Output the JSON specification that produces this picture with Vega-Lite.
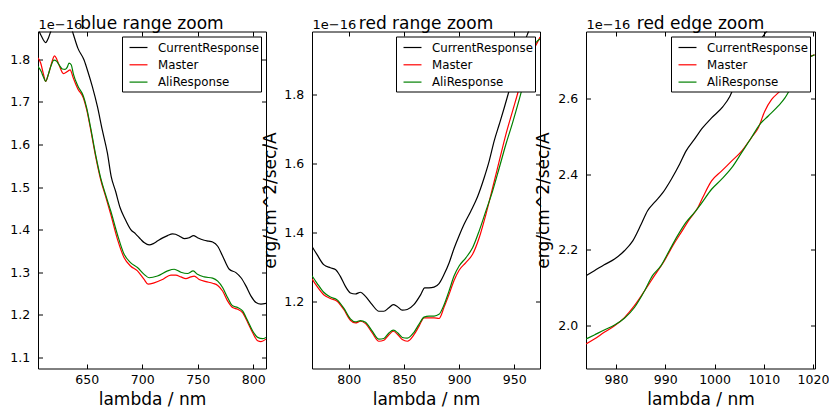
{
  "$schema": "https://vega.github.io/schema/vega-lite/v6.json",
  "autosize": {"type": "pad"},
  "padding": {"left": 9, "top": 14.5, "right": 5, "bottom": 0},
  "bounds": "flush",
  "spacing": 46,
  "config": {
    "font": "DejaVu Sans",
    "view": {"stroke": "black", "strokeWidth": 1},
    "axis": {"domain": false, "grid": false, "tickColor": "black", "tickSize": -4.5, "tickWidth": 1, "labelFont": "DejaVu Sans", "labelFontSize": 12.5, "labelColor": "black", "titleFont": "DejaVu Sans", "titleFontSize": 17, "titleFontWeight": "normal", "titleColor": "black", "labelOverlap": false, "labelFlush": false},
    "title": {"font": "DejaVu Sans", "fontSize": 17, "fontWeight": "normal", "color": "black", "anchor": "middle", "baseline": "alphabetic", "offset": -15},
    "legend": {"orient": "top-right", "offset": 5, "strokeColor": "black", "fillColor": "white", "padding": 2, "symbolType": "M-1.07,0H1.07", "symbolSize": 282, "symbolOffset": 5.5, "symbolStrokeWidth": 1.2, "labelFont": "DejaVu Sans", "labelFontSize": 11.8, "labelColor": "black", "labelOffset": 10.5, "rowPadding": 1.3, "cornerRadius": 0},
    "line": {"strokeWidth": 1.2, "interpolate": "monotone"}
  },
  "datasets": {
    "blue": [
      {"nm": 606, "v": 1.872, "s": "CurrentResponse"}, {"nm": 609, "v": 1.855, "s": "CurrentResponse"}, {"nm": 613, "v": 1.839, "s": "CurrentResponse"}, {"nm": 615.5, "v": 1.85, "s": "CurrentResponse"}, {"nm": 618, "v": 1.868, "s": "CurrentResponse"}, {"nm": 622, "v": 1.89, "s": "CurrentResponse"}, {"nm": 627, "v": 1.905, "s": "CurrentResponse"}, {"nm": 632, "v": 1.9, "s": "CurrentResponse"}, {"nm": 636, "v": 1.875, "s": "CurrentResponse"}, {"nm": 638, "v": 1.858, "s": "CurrentResponse"}, {"nm": 642, "v": 1.826, "s": "CurrentResponse"}, {"nm": 647.6, "v": 1.798, "s": "CurrentResponse"}, {"nm": 651, "v": 1.771, "s": "CurrentResponse"}, {"nm": 655, "v": 1.736, "s": "CurrentResponse"}, {"nm": 659.6, "v": 1.689, "s": "CurrentResponse"}, {"nm": 664, "v": 1.634, "s": "CurrentResponse"}, {"nm": 668.6, "v": 1.58, "s": "CurrentResponse"}, {"nm": 672, "v": 1.525, "s": "CurrentResponse"}, {"nm": 676, "v": 1.49, "s": "CurrentResponse"}, {"nm": 680, "v": 1.452, "s": "CurrentResponse"}, {"nm": 684, "v": 1.428, "s": "CurrentResponse"}, {"nm": 689.7, "v": 1.4, "s": "CurrentResponse"}, {"nm": 694, "v": 1.39, "s": "CurrentResponse"}, {"nm": 698.7, "v": 1.377, "s": "CurrentResponse"}, {"nm": 702, "v": 1.369, "s": "CurrentResponse"}, {"nm": 706.2, "v": 1.364, "s": "CurrentResponse"}, {"nm": 710, "v": 1.367, "s": "CurrentResponse"}, {"nm": 713.7, "v": 1.373, "s": "CurrentResponse"}, {"nm": 718, "v": 1.38, "s": "CurrentResponse"}, {"nm": 722.8, "v": 1.386, "s": "CurrentResponse"}, {"nm": 727.3, "v": 1.39, "s": "CurrentResponse"}, {"nm": 730, "v": 1.389, "s": "CurrentResponse"}, {"nm": 733.3, "v": 1.385, "s": "CurrentResponse"}, {"nm": 737.8, "v": 1.379, "s": "CurrentResponse"}, {"nm": 742.3, "v": 1.381, "s": "CurrentResponse"}, {"nm": 746.2, "v": 1.386, "s": "CurrentResponse"}, {"nm": 749.8, "v": 1.381, "s": "CurrentResponse"}, {"nm": 755.8, "v": 1.375, "s": "CurrentResponse"}, {"nm": 760, "v": 1.373, "s": "CurrentResponse"}, {"nm": 763.4, "v": 1.371, "s": "CurrentResponse"}, {"nm": 768, "v": 1.361, "s": "CurrentResponse"}, {"nm": 772.4, "v": 1.338, "s": "CurrentResponse"}, {"nm": 778.4, "v": 1.307, "s": "CurrentResponse"}, {"nm": 784.4, "v": 1.299, "s": "CurrentResponse"}, {"nm": 789, "v": 1.287, "s": "CurrentResponse"}, {"nm": 793.4, "v": 1.268, "s": "CurrentResponse"}, {"nm": 798, "v": 1.244, "s": "CurrentResponse"}, {"nm": 802.5, "v": 1.229, "s": "CurrentResponse"}, {"nm": 807, "v": 1.225, "s": "CurrentResponse"}, {"nm": 811.5, "v": 1.227, "s": "CurrentResponse"},
      {"nm": 606, "v": 1.803, "s": "Master"}, {"nm": 608.5, "v": 1.791, "s": "Master"}, {"nm": 611, "v": 1.765, "s": "Master"}, {"nm": 613, "v": 1.748, "s": "Master"}, {"nm": 615.5, "v": 1.765, "s": "Master"}, {"nm": 617.5, "v": 1.783, "s": "Master"}, {"nm": 621, "v": 1.808, "s": "Master"}, {"nm": 623, "v": 1.8, "s": "Master"}, {"nm": 625, "v": 1.787, "s": "Master"}, {"nm": 629, "v": 1.766, "s": "Master"}, {"nm": 632.6, "v": 1.771, "s": "Master"}, {"nm": 635, "v": 1.775, "s": "Master"}, {"nm": 638, "v": 1.755, "s": "Master"}, {"nm": 642, "v": 1.73, "s": "Master"}, {"nm": 647, "v": 1.709, "s": "Master"}, {"nm": 650, "v": 1.681, "s": "Master"}, {"nm": 653.6, "v": 1.634, "s": "Master"}, {"nm": 658, "v": 1.572, "s": "Master"}, {"nm": 662.6, "v": 1.517, "s": "Master"}, {"nm": 667, "v": 1.478, "s": "Master"}, {"nm": 671.7, "v": 1.435, "s": "Master"}, {"nm": 677.7, "v": 1.377, "s": "Master"}, {"nm": 683.7, "v": 1.334, "s": "Master"}, {"nm": 689.7, "v": 1.314, "s": "Master"}, {"nm": 695.7, "v": 1.303, "s": "Master"}, {"nm": 701.7, "v": 1.283, "s": "Master"}, {"nm": 705.3, "v": 1.272, "s": "Master"}, {"nm": 710.7, "v": 1.275, "s": "Master"}, {"nm": 718.3, "v": 1.283, "s": "Master"}, {"nm": 725.8, "v": 1.293, "s": "Master"}, {"nm": 730.3, "v": 1.293, "s": "Master"}, {"nm": 734.8, "v": 1.289, "s": "Master"}, {"nm": 739.3, "v": 1.285, "s": "Master"}, {"nm": 743.8, "v": 1.289, "s": "Master"}, {"nm": 746.8, "v": 1.291, "s": "Master"}, {"nm": 751.3, "v": 1.283, "s": "Master"}, {"nm": 757.3, "v": 1.278, "s": "Master"}, {"nm": 763.4, "v": 1.274, "s": "Master"}, {"nm": 768, "v": 1.269, "s": "Master"}, {"nm": 772.4, "v": 1.256, "s": "Master"}, {"nm": 777, "v": 1.232, "s": "Master"}, {"nm": 781.4, "v": 1.217, "s": "Master"}, {"nm": 786, "v": 1.213, "s": "Master"}, {"nm": 790.4, "v": 1.205, "s": "Master"}, {"nm": 795, "v": 1.182, "s": "Master"}, {"nm": 799.5, "v": 1.158, "s": "Master"}, {"nm": 804, "v": 1.139, "s": "Master"}, {"nm": 807, "v": 1.137, "s": "Master"}, {"nm": 811.5, "v": 1.143, "s": "Master"},
      {"nm": 606, "v": 1.783, "s": "AliResponse"}, {"nm": 609, "v": 1.771, "s": "AliResponse"}, {"nm": 611, "v": 1.758, "s": "AliResponse"}, {"nm": 613, "v": 1.748, "s": "AliResponse"}, {"nm": 615.5, "v": 1.765, "s": "AliResponse"}, {"nm": 617.5, "v": 1.782, "s": "AliResponse"}, {"nm": 620.5, "v": 1.798, "s": "AliResponse"}, {"nm": 623, "v": 1.795, "s": "AliResponse"}, {"nm": 625, "v": 1.787, "s": "AliResponse"}, {"nm": 628, "v": 1.777, "s": "AliResponse"}, {"nm": 630.5, "v": 1.776, "s": "AliResponse"}, {"nm": 632.6, "v": 1.782, "s": "AliResponse"}, {"nm": 634, "v": 1.791, "s": "AliResponse"}, {"nm": 636, "v": 1.787, "s": "AliResponse"}, {"nm": 638, "v": 1.765, "s": "AliResponse"}, {"nm": 642, "v": 1.737, "s": "AliResponse"}, {"nm": 647, "v": 1.713, "s": "AliResponse"}, {"nm": 650, "v": 1.685, "s": "AliResponse"}, {"nm": 653.6, "v": 1.638, "s": "AliResponse"}, {"nm": 658, "v": 1.576, "s": "AliResponse"}, {"nm": 662.6, "v": 1.521, "s": "AliResponse"}, {"nm": 667, "v": 1.482, "s": "AliResponse"}, {"nm": 671.7, "v": 1.443, "s": "AliResponse"}, {"nm": 677.7, "v": 1.388, "s": "AliResponse"}, {"nm": 683.7, "v": 1.342, "s": "AliResponse"}, {"nm": 689.7, "v": 1.322, "s": "AliResponse"}, {"nm": 695.7, "v": 1.311, "s": "AliResponse"}, {"nm": 701.7, "v": 1.295, "s": "AliResponse"}, {"nm": 706.2, "v": 1.287, "s": "AliResponse"}, {"nm": 713.7, "v": 1.291, "s": "AliResponse"}, {"nm": 722.8, "v": 1.303, "s": "AliResponse"}, {"nm": 728.8, "v": 1.307, "s": "AliResponse"}, {"nm": 734.8, "v": 1.3, "s": "AliResponse"}, {"nm": 740.8, "v": 1.297, "s": "AliResponse"}, {"nm": 745.9, "v": 1.303, "s": "AliResponse"}, {"nm": 749.8, "v": 1.295, "s": "AliResponse"}, {"nm": 755.8, "v": 1.289, "s": "AliResponse"}, {"nm": 763.4, "v": 1.286, "s": "AliResponse"}, {"nm": 768, "v": 1.279, "s": "AliResponse"}, {"nm": 772.4, "v": 1.264, "s": "AliResponse"}, {"nm": 777, "v": 1.24, "s": "AliResponse"}, {"nm": 781.4, "v": 1.221, "s": "AliResponse"}, {"nm": 786, "v": 1.217, "s": "AliResponse"}, {"nm": 790.4, "v": 1.209, "s": "AliResponse"}, {"nm": 795, "v": 1.186, "s": "AliResponse"}, {"nm": 799.5, "v": 1.162, "s": "AliResponse"}, {"nm": 804, "v": 1.147, "s": "AliResponse"}, {"nm": 808.5, "v": 1.144, "s": "AliResponse"}, {"nm": 811.5, "v": 1.147, "s": "AliResponse"}
    ],
    "red": [
      {"nm": 766.7, "v": 1.361, "s": "CurrentResponse"}, {"nm": 771.3, "v": 1.337, "s": "CurrentResponse"}, {"nm": 777.3, "v": 1.308, "s": "CurrentResponse"}, {"nm": 783.3, "v": 1.299, "s": "CurrentResponse"}, {"nm": 787.9, "v": 1.294, "s": "CurrentResponse"}, {"nm": 792.4, "v": 1.274, "s": "CurrentResponse"}, {"nm": 797, "v": 1.245, "s": "CurrentResponse"}, {"nm": 801.5, "v": 1.226, "s": "CurrentResponse"}, {"nm": 806, "v": 1.223, "s": "CurrentResponse"}, {"nm": 810.6, "v": 1.228, "s": "CurrentResponse"}, {"nm": 815.2, "v": 1.216, "s": "CurrentResponse"}, {"nm": 821.2, "v": 1.192, "s": "CurrentResponse"}, {"nm": 827.3, "v": 1.173, "s": "CurrentResponse"}, {"nm": 831.8, "v": 1.173, "s": "CurrentResponse"}, {"nm": 836.4, "v": 1.183, "s": "CurrentResponse"}, {"nm": 840.3, "v": 1.192, "s": "CurrentResponse"}, {"nm": 843.9, "v": 1.187, "s": "CurrentResponse"}, {"nm": 848.5, "v": 1.176, "s": "CurrentResponse"}, {"nm": 853, "v": 1.178, "s": "CurrentResponse"}, {"nm": 859, "v": 1.192, "s": "CurrentResponse"}, {"nm": 865.2, "v": 1.221, "s": "CurrentResponse"}, {"nm": 868.8, "v": 1.241, "s": "CurrentResponse"}, {"nm": 872.7, "v": 1.241, "s": "CurrentResponse"}, {"nm": 877.3, "v": 1.243, "s": "CurrentResponse"}, {"nm": 881.8, "v": 1.253, "s": "CurrentResponse"}, {"nm": 886.4, "v": 1.28, "s": "CurrentResponse"}, {"nm": 890.9, "v": 1.313, "s": "CurrentResponse"}, {"nm": 895.4, "v": 1.355, "s": "CurrentResponse"}, {"nm": 900, "v": 1.392, "s": "CurrentResponse"}, {"nm": 904.5, "v": 1.425, "s": "CurrentResponse"}, {"nm": 910.6, "v": 1.463, "s": "CurrentResponse"}, {"nm": 916.7, "v": 1.505, "s": "CurrentResponse"}, {"nm": 922.7, "v": 1.56, "s": "CurrentResponse"}, {"nm": 927.3, "v": 1.609, "s": "CurrentResponse"}, {"nm": 931.8, "v": 1.667, "s": "CurrentResponse"}, {"nm": 936.4, "v": 1.715, "s": "CurrentResponse"}, {"nm": 940.9, "v": 1.763, "s": "CurrentResponse"}, {"nm": 946, "v": 1.82, "s": "CurrentResponse"}, {"nm": 951, "v": 1.875, "s": "CurrentResponse"}, {"nm": 956, "v": 1.925, "s": "CurrentResponse"}, {"nm": 960, "v": 1.96, "s": "CurrentResponse"}, {"nm": 963.6, "v": 1.99, "s": "CurrentResponse"}, {"nm": 968, "v": 2.03, "s": "CurrentResponse"}, {"nm": 973.3, "v": 2.07, "s": "CurrentResponse"},
      {"nm": 766.7, "v": 1.267, "s": "Master"}, {"nm": 771.3, "v": 1.245, "s": "Master"}, {"nm": 777.3, "v": 1.221, "s": "Master"}, {"nm": 783.4, "v": 1.21, "s": "Master"}, {"nm": 789.5, "v": 1.202, "s": "Master"}, {"nm": 795.5, "v": 1.178, "s": "Master"}, {"nm": 801.5, "v": 1.147, "s": "Master"}, {"nm": 806.1, "v": 1.139, "s": "Master"}, {"nm": 810.6, "v": 1.144, "s": "Master"}, {"nm": 815.2, "v": 1.137, "s": "Master"}, {"nm": 821.3, "v": 1.11, "s": "Master"}, {"nm": 827.3, "v": 1.086, "s": "Master"}, {"nm": 831.8, "v": 1.089, "s": "Master"}, {"nm": 836.4, "v": 1.105, "s": "Master"}, {"nm": 840.4, "v": 1.115, "s": "Master"}, {"nm": 844.5, "v": 1.105, "s": "Master"}, {"nm": 848.5, "v": 1.091, "s": "Master"}, {"nm": 853.1, "v": 1.086, "s": "Master"}, {"nm": 859.1, "v": 1.105, "s": "Master"}, {"nm": 863.6, "v": 1.129, "s": "Master"}, {"nm": 868.2, "v": 1.154, "s": "Master"}, {"nm": 872.7, "v": 1.154, "s": "Master"}, {"nm": 877.3, "v": 1.154, "s": "Master"}, {"nm": 881.8, "v": 1.152, "s": "Master"}, {"nm": 886.4, "v": 1.185, "s": "Master"}, {"nm": 890.9, "v": 1.222, "s": "Master"}, {"nm": 895.4, "v": 1.262, "s": "Master"}, {"nm": 900, "v": 1.292, "s": "Master"}, {"nm": 906.1, "v": 1.314, "s": "Master"}, {"nm": 912.2, "v": 1.338, "s": "Master"}, {"nm": 918.2, "v": 1.386, "s": "Master"}, {"nm": 924.3, "v": 1.454, "s": "Master"}, {"nm": 930.4, "v": 1.531, "s": "Master"}, {"nm": 936.4, "v": 1.609, "s": "Master"}, {"nm": 942.4, "v": 1.686, "s": "Master"}, {"nm": 948.5, "v": 1.754, "s": "Master"}, {"nm": 954.5, "v": 1.821, "s": "Master"}, {"nm": 960.6, "v": 1.899, "s": "Master"}, {"nm": 964.5, "v": 1.925, "s": "Master"}, {"nm": 968.2, "v": 1.937, "s": "Master"}, {"nm": 973.3, "v": 1.968, "s": "Master"},
      {"nm": 766.7, "v": 1.276, "s": "AliResponse"}, {"nm": 771.3, "v": 1.254, "s": "AliResponse"}, {"nm": 777.3, "v": 1.228, "s": "AliResponse"}, {"nm": 783.4, "v": 1.214, "s": "AliResponse"}, {"nm": 789.5, "v": 1.206, "s": "AliResponse"}, {"nm": 795.5, "v": 1.182, "s": "AliResponse"}, {"nm": 801.5, "v": 1.151, "s": "AliResponse"}, {"nm": 806.1, "v": 1.142, "s": "AliResponse"}, {"nm": 810.6, "v": 1.146, "s": "AliResponse"}, {"nm": 815.2, "v": 1.141, "s": "AliResponse"}, {"nm": 821.3, "v": 1.115, "s": "AliResponse"}, {"nm": 827.3, "v": 1.092, "s": "AliResponse"}, {"nm": 831.8, "v": 1.094, "s": "AliResponse"}, {"nm": 836.4, "v": 1.11, "s": "AliResponse"}, {"nm": 840.4, "v": 1.118, "s": "AliResponse"}, {"nm": 844.5, "v": 1.11, "s": "AliResponse"}, {"nm": 848.5, "v": 1.097, "s": "AliResponse"}, {"nm": 853.1, "v": 1.095, "s": "AliResponse"}, {"nm": 859.1, "v": 1.112, "s": "AliResponse"}, {"nm": 863.6, "v": 1.135, "s": "AliResponse"}, {"nm": 868.2, "v": 1.156, "s": "AliResponse"}, {"nm": 872.7, "v": 1.159, "s": "AliResponse"}, {"nm": 877.3, "v": 1.159, "s": "AliResponse"}, {"nm": 881.8, "v": 1.164, "s": "AliResponse"}, {"nm": 886.4, "v": 1.192, "s": "AliResponse"}, {"nm": 890.9, "v": 1.232, "s": "AliResponse"}, {"nm": 895.4, "v": 1.275, "s": "AliResponse"}, {"nm": 900, "v": 1.304, "s": "AliResponse"}, {"nm": 906.1, "v": 1.328, "s": "AliResponse"}, {"nm": 912.2, "v": 1.357, "s": "AliResponse"}, {"nm": 918.2, "v": 1.406, "s": "AliResponse"}, {"nm": 924.3, "v": 1.464, "s": "AliResponse"}, {"nm": 930.4, "v": 1.522, "s": "AliResponse"}, {"nm": 936.4, "v": 1.589, "s": "AliResponse"}, {"nm": 942.4, "v": 1.657, "s": "AliResponse"}, {"nm": 948.5, "v": 1.72, "s": "AliResponse"}, {"nm": 954.5, "v": 1.787, "s": "AliResponse"}, {"nm": 960.6, "v": 1.86, "s": "AliResponse"}, {"nm": 965.2, "v": 1.918, "s": "AliResponse"}, {"nm": 969.7, "v": 1.952, "s": "AliResponse"}, {"nm": 973.3, "v": 1.962, "s": "AliResponse"}
    ],
    "edge": [
      {"nm": 973.9, "v": 2.131, "s": "CurrentResponse"}, {"nm": 975.6, "v": 2.144, "s": "CurrentResponse"}, {"nm": 977.6, "v": 2.16, "s": "CurrentResponse"}, {"nm": 979.7, "v": 2.175, "s": "CurrentResponse"}, {"nm": 981.7, "v": 2.197, "s": "CurrentResponse"}, {"nm": 983.4, "v": 2.223, "s": "CurrentResponse"}, {"nm": 985.1, "v": 2.267, "s": "CurrentResponse"}, {"nm": 986.4, "v": 2.303, "s": "CurrentResponse"}, {"nm": 987.8, "v": 2.325, "s": "CurrentResponse"}, {"nm": 989.5, "v": 2.351, "s": "CurrentResponse"}, {"nm": 991.2, "v": 2.386, "s": "CurrentResponse"}, {"nm": 992.9, "v": 2.426, "s": "CurrentResponse"}, {"nm": 994.2, "v": 2.461, "s": "CurrentResponse"}, {"nm": 995.9, "v": 2.492, "s": "CurrentResponse"}, {"nm": 997.6, "v": 2.523, "s": "CurrentResponse"}, {"nm": 999.4, "v": 2.549, "s": "CurrentResponse"}, {"nm": 1001.7, "v": 2.579, "s": "CurrentResponse"}, {"nm": 1003.1, "v": 2.606, "s": "CurrentResponse"}, {"nm": 1004.1, "v": 2.635, "s": "CurrentResponse"}, {"nm": 1006, "v": 2.68, "s": "CurrentResponse"}, {"nm": 1008, "v": 2.725, "s": "CurrentResponse"}, {"nm": 1010.2, "v": 2.772, "s": "CurrentResponse"}, {"nm": 1012, "v": 2.8, "s": "CurrentResponse"}, {"nm": 1016, "v": 2.87, "s": "CurrentResponse"}, {"nm": 1020.3, "v": 2.94, "s": "CurrentResponse"},
      {"nm": 973.9, "v": 1.95, "s": "Master"}, {"nm": 975.6, "v": 1.963, "s": "Master"}, {"nm": 977.6, "v": 1.981, "s": "Master"}, {"nm": 979.7, "v": 1.998, "s": "Master"}, {"nm": 981.7, "v": 2.02, "s": "Master"}, {"nm": 983.7, "v": 2.051, "s": "Master"}, {"nm": 985.8, "v": 2.091, "s": "Master"}, {"nm": 987.8, "v": 2.131, "s": "Master"}, {"nm": 989.8, "v": 2.17, "s": "Master"}, {"nm": 991.5, "v": 2.21, "s": "Master"}, {"nm": 993.2, "v": 2.245, "s": "Master"}, {"nm": 994.9, "v": 2.28, "s": "Master"}, {"nm": 996.6, "v": 2.311, "s": "Master"}, {"nm": 997.6, "v": 2.338, "s": "Master"}, {"nm": 999.4, "v": 2.382, "s": "Master"}, {"nm": 1001.4, "v": 2.408, "s": "Master"}, {"nm": 1003.5, "v": 2.435, "s": "Master"}, {"nm": 1005.5, "v": 2.461, "s": "Master"}, {"nm": 1007.5, "v": 2.497, "s": "Master"}, {"nm": 1008.9, "v": 2.523, "s": "Master"}, {"nm": 1010.2, "v": 2.567, "s": "Master"}, {"nm": 1011.6, "v": 2.598, "s": "Master"}, {"nm": 1013.3, "v": 2.62, "s": "Master"}, {"nm": 1015, "v": 2.645, "s": "Master"}, {"nm": 1017, "v": 2.68, "s": "Master"}, {"nm": 1018.5, "v": 2.705, "s": "Master"}, {"nm": 1020.3, "v": 2.716, "s": "Master"},
      {"nm": 973.9, "v": 1.963, "s": "AliResponse"}, {"nm": 975.6, "v": 1.974, "s": "AliResponse"}, {"nm": 977.6, "v": 1.987, "s": "AliResponse"}, {"nm": 979.7, "v": 2.0, "s": "AliResponse"}, {"nm": 981.7, "v": 2.018, "s": "AliResponse"}, {"nm": 983.7, "v": 2.046, "s": "AliResponse"}, {"nm": 985.8, "v": 2.091, "s": "AliResponse"}, {"nm": 987.4, "v": 2.131, "s": "AliResponse"}, {"nm": 989.1, "v": 2.157, "s": "AliResponse"}, {"nm": 990.8, "v": 2.197, "s": "AliResponse"}, {"nm": 992.5, "v": 2.237, "s": "AliResponse"}, {"nm": 994.2, "v": 2.272, "s": "AliResponse"}, {"nm": 995.9, "v": 2.298, "s": "AliResponse"}, {"nm": 997.3, "v": 2.322, "s": "AliResponse"}, {"nm": 999.4, "v": 2.36, "s": "AliResponse"}, {"nm": 1001.4, "v": 2.386, "s": "AliResponse"}, {"nm": 1003.5, "v": 2.417, "s": "AliResponse"}, {"nm": 1005.5, "v": 2.457, "s": "AliResponse"}, {"nm": 1007.5, "v": 2.497, "s": "AliResponse"}, {"nm": 1009.2, "v": 2.532, "s": "AliResponse"}, {"nm": 1010.9, "v": 2.554, "s": "AliResponse"}, {"nm": 1012.9, "v": 2.58, "s": "AliResponse"}, {"nm": 1014.3, "v": 2.602, "s": "AliResponse"}, {"nm": 1015.3, "v": 2.624, "s": "AliResponse"}, {"nm": 1017, "v": 2.66, "s": "AliResponse"}, {"nm": 1018.5, "v": 2.7, "s": "AliResponse"}, {"nm": 1020.3, "v": 2.716, "s": "AliResponse"}
    ]
  },
  "hconcat": [
    {
      "width": 228, "height": 337,
      "title": {"text": "blue range zoom"},
      "data": {"name": "blue"},
      "layer": [
        {
          "mark": {"type": "line", "clip": true},
          "encoding": {
            "x": {"field": "nm", "type": "quantitative", "scale": {"domain": [606.1, 811.5], "nice": false, "zero": false}, "axis": {"orient": "bottom", "values": [650, 700, 750, 800], "format": "d", "labelPadding": 9.5, "title": "lambda / nm", "titleY": 35.5, "titleBaseline": "alphabetic"}},
            "y": {"field": "v", "type": "quantitative", "scale": {"domain": [1.074, 1.865], "nice": false, "zero": false}, "axis": {"orient": "left", "values": [1.1, 1.2, 1.3, 1.4, 1.5, 1.6, 1.7, 1.8], "format": ".1f", "labelPadding": 12.8, "title": null}},
            "color": {"field": "s", "type": "nominal", "scale": {"domain": ["CurrentResponse", "Master", "AliResponse"], "range": ["#000000", "#ff0000", "#008000"]}, "legend": {"title": null}}
          }
        },
        {
          "mark": {"type": "line", "opacity": 0, "clip": true},
          "encoding": {
            "x": {"field": "nm", "type": "quantitative", "scale": {"domain": [606.1, 811.5], "nice": false, "zero": false}, "axis": {"orient": "top", "values": [650, 700, 750, 800], "labels": false, "title": "1e−16", "titleX": 0, "titleY": -3.5, "titleAlign": "left", "titleBaseline": "alphabetic", "titleAngle": 0, "titleFontSize": 13}},
            "y": {"field": "v", "type": "quantitative", "scale": {"domain": [1.074, 1.865], "nice": false, "zero": false}, "axis": {"orient": "right", "values": [1.1, 1.2, 1.3, 1.4, 1.5, 1.6, 1.7, 1.8], "labels": false, "title": null}},
            "detail": {"field": "s"}
          }
        }
      ],
      "resolve": {"axis": {"x": "independent", "y": "independent"}}
    },
    {
      "width": 228, "height": 337,
      "title": {"text": "red range zoom"},
      "data": {"name": "red"},
      "layer": [
        {
          "mark": {"type": "line", "clip": true},
          "encoding": {
            "x": {"field": "nm", "type": "quantitative", "scale": {"domain": [766.7, 973.3], "nice": false, "zero": false}, "axis": {"orient": "bottom", "values": [800, 850, 900, 950], "format": "d", "labelPadding": 9.5, "title": "lambda / nm", "titleY": 35.5, "titleBaseline": "alphabetic"}},
            "y": {"field": "v", "type": "quantitative", "scale": {"domain": [1.007, 1.984], "nice": false, "zero": false}, "axis": {"orient": "left", "values": [1.2, 1.4, 1.6, 1.8], "format": ".1f", "labelPadding": 12.8, "title": "erg/cm^2/sec/A", "titleX": -32.5, "titleY": 168.5}},
            "color": {"field": "s", "type": "nominal", "scale": {"domain": ["CurrentResponse", "Master", "AliResponse"], "range": ["#000000", "#ff0000", "#008000"]}, "legend": {"title": null}}
          }
        },
        {
          "mark": {"type": "line", "opacity": 0, "clip": true},
          "encoding": {
            "x": {"field": "nm", "type": "quantitative", "scale": {"domain": [766.7, 973.3], "nice": false, "zero": false}, "axis": {"orient": "top", "values": [800, 850, 900, 950], "labels": false, "title": "1e−16", "titleX": 0, "titleY": -3.5, "titleAlign": "left", "titleBaseline": "alphabetic", "titleAngle": 0, "titleFontSize": 13}},
            "y": {"field": "v", "type": "quantitative", "scale": {"domain": [1.007, 1.984], "nice": false, "zero": false}, "axis": {"orient": "right", "values": [1.2, 1.4, 1.6, 1.8], "labels": false, "title": null}},
            "detail": {"field": "s"}
          }
        }
      ],
      "resolve": {"axis": {"x": "independent", "y": "independent"}}
    },
    {
      "width": 229, "height": 337,
      "title": {"text": "red edge zoom"},
      "data": {"name": "edge"},
      "layer": [
        {
          "mark": {"type": "line", "clip": true},
          "encoding": {
            "x": {"field": "nm", "type": "quantitative", "scale": {"domain": [973.9, 1020.4], "nice": false, "zero": false}, "axis": {"orient": "bottom", "values": [980, 990, 1000, 1010, 1020], "format": "d", "labelPadding": 9.5, "title": "lambda / nm", "titleY": 35.5, "titleBaseline": "alphabetic"}},
            "y": {"field": "v", "type": "quantitative", "scale": {"domain": [1.885, 2.778], "nice": false, "zero": false}, "axis": {"orient": "left", "values": [2.0, 2.2, 2.4, 2.6], "format": ".1f", "labelPadding": 12.8, "title": "erg/cm^2/sec/A", "titleX": -34, "titleY": 168.5}},
            "color": {"field": "s", "type": "nominal", "scale": {"domain": ["CurrentResponse", "Master", "AliResponse"], "range": ["#000000", "#ff0000", "#008000"]}, "legend": {"title": null}}
          }
        },
        {
          "mark": {"type": "line", "opacity": 0, "clip": true},
          "encoding": {
            "x": {"field": "nm", "type": "quantitative", "scale": {"domain": [973.9, 1020.4], "nice": false, "zero": false}, "axis": {"orient": "top", "values": [980, 990, 1000, 1010, 1020], "labels": false, "title": "1e−16", "titleX": 0, "titleY": -3.5, "titleAlign": "left", "titleBaseline": "alphabetic", "titleAngle": 0, "titleFontSize": 13}},
            "y": {"field": "v", "type": "quantitative", "scale": {"domain": [1.885, 2.778], "nice": false, "zero": false}, "axis": {"orient": "right", "values": [2.0, 2.2, 2.4, 2.6], "labels": false, "title": null}},
            "detail": {"field": "s"}
          }
        }
      ],
      "resolve": {"axis": {"x": "independent", "y": "independent"}}
    }
  ],
  "resolve": {"scale": {"x": "independent", "y": "independent", "color": "independent"}, "legend": {"color": "independent"}}
}
